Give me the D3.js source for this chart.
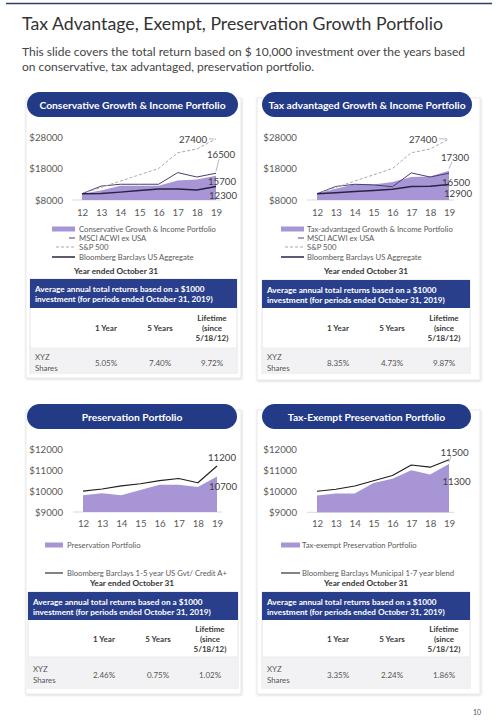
<!DOCTYPE html>
<html>
<head>
<meta charset="utf-8">
<script src="https://cdn.jsdelivr.net/npm/d3@7"></script>
<style>
  body { margin: 0; background: #fff; }
  svg { display: block; font-family: Lato, "Open Sans", sans-serif; }
</style>
</head>
<body>
<svg id="chart" width="498" height="720"></svg>
<script>
// ---- data ----
const years = ['12', '13', '14', '15', '16', '17', '18', '19'];

const consPortfolio = [10000, 11000, 12500, 12500, 12500, 14200, 14500, 15700];
const consMsci = [10000, 12400, 13000, 13000, 13000, 16700, 15300, 16500];
const sp500 = [10000, 12000, 14000, 16000, 18000, 23000, 24200, 27400];
const consAgg = [10000, 10100, 10500, 11000, 11500, 11500, 11200, 12300];

const taxAdvPortfolio = [10000, 11600, 13000, 12900, 13700, 15300, 15500, 17300];
const taxAdvMsci = [10000, 12300, 13000, 12800, 12200, 16600, 15300, 16500];
const taxAdvAgg = [10000, 10300, 10700, 11000, 11400, 12300, 12400, 12900];

const presPortfolio = [9800, 9900, 9800, 10050, 10300, 10300, 10200, 10700];
const presBenchmark = [10000, 10100, 10250, 10350, 10500, 10600, 10400, 11200];

const taxExPortfolio = [9800, 9900, 9900, 10400, 10600, 11000, 10800, 11300];
const taxExBenchmark = [10000, 10100, 10250, 10500, 10750, 11250, 11150, 11500];

const growthTicks = [8000, 18000, 28000];
const presTicks = [9000, 10000, 11000, 12000];

const tableTitle = ['Average annual  total returns based on a $1000', 'investment (for periods ended October 31, 2019)'];
const tableCols = [['1 Year'], ['5 Years'], ['Lifetime', '(since', '5/18/12)']];
const rowLabel = ['XYZ', 'Shares'];
const consReturns = ['5.05%', '7.40%', '9.72%'];
const taxAdvReturns = ['8.35%', '4.73%', '9.87%'];
const presReturns = ['2.46%', '0.75%', '1.02%'];
const taxExReturns = ['3.35%', '2.24%', '1.86%'];

// ---- styles ----
const navy = '#233a86';
const areaFill = '#a795d5';
const lineStyle = {
  msci: { stroke: '#4a3e70', width: 1, dash: null },
  sp: { stroke: '#a9a9a9', width: 1, dash: '3,2' },
  agg: { stroke: '#2a2244', width: 1.5, dash: null },
  bench: { stroke: '#1e1e1e', width: 1.1, dash: null }
};

const svg = d3.select('#chart');

const defs = svg.append('defs');
const shadow = defs.append('filter').attr('id', 'shadow').attr('x', '-5%').attr('y', '-5%').attr('width', '110%').attr('height', '110%');
shadow.append('feDropShadow').attr('dx', 0.5).attr('dy', 0.8).attr('stdDeviation', 1.2).attr('flood-color', '#000').attr('flood-opacity', 0.18);

// header
svg.append('line').attr('x1', 6).attr('x2', 492).attr('y1', 3.5).attr('y2', 3.5)
  .attr('stroke', '#2c3b70').attr('stroke-width', 1.5);
svg.append('text').attr('x', 22).attr('y', 30).attr('font-size', 17.7).attr('fill', '#333')
  .text('Tax Advantage, Exempt, Preservation Growth Portfolio');
svg.append('text').attr('x', 22).attr('y', 56).attr('font-size', 12).attr('fill', '#444')
  .text('This slide covers the total return based on $ 10,000 investment over the years based');
svg.append('text').attr('x', 22).attr('y', 71).attr('font-size', 12).attr('fill', '#444')
  .text('on conservative, tax advantaged, preservation portfolio.');
svg.append('text').attr('x', 477).attr('y', 715).attr('font-size', 7).attr('fill', '#555').attr('text-anchor', 'middle').text('10');

const panels = [
  {
    title: 'Conservative Growth & Income Portfolio',
    card: [26, 98, 241, 378], pill: [27, 238],
    plotX: [82, 216], plotY: [200, 137], tickX: 63, axisY: 214,
    domain: [8000, 28000], ticks: growthTicks,
    area: consPortfolio,
    lines: [{ key: 'msci', values: consMsci }, { key: 'sp', values: sp500 }, { key: 'agg', values: consAgg }],
    legend: [
      { type: 'area', text: 'Conservative Growth & Income Portfolio' },
      { type: 'msci', text: 'MSCI ACWI ex USA' },
      { type: 'sp', text: 'S&P 500' },
      { type: 'agg', text: 'Bloomberg Barclays US Aggregate' }
    ],
    legendX: [52, 75, 79], legendY: [229, 238, 247, 257], yearY: 271, yearX: 116,
    labels: [
      { key: 'sp', dx: -9, dy: 0, anchor: 'end', leader: [[-7, 0], [-2, 0]] },
      { key: 'msci', dx: -9, dy: -19, anchor: 'start', leader: [[3, -14], [0, -2]] },
      { key: 'area', dx: -8, dy: 5, anchor: 'start' },
      { key: 'agg', dx: -7, dy: 9, anchor: 'start' }
    ],
    table: [30, 237, 279, 308, 348, 373], returns: consReturns
  },
  {
    title: 'Tax advantaged Growth & Income Portfolio',
    card: [257, 98, 480, 380], pill: [262, 472],
    plotX: [317, 449], plotY: [200, 137], tickX: 297, axisY: 214,
    domain: [8000, 28000], ticks: growthTicks,
    area: taxAdvPortfolio,
    lines: [{ key: 'msci', values: taxAdvMsci }, { key: 'sp', values: sp500 }, { key: 'agg', values: taxAdvAgg }],
    legend: [
      { type: 'area', text: 'Tax-advantaged Growth & Income Portfolio' },
      { type: 'msci', text: 'MSCI ACWI ex USA' },
      { type: 'sp', text: 'S&P 500' },
      { type: 'agg', text: 'Bloomberg Barclays US Aggregate' }
    ],
    legendX: [281, 304, 307], legendY: [229, 238, 247, 257], yearY: 271, yearX: 366,
    labels: [
      { key: 'sp', dx: -12, dy: 0, anchor: 'end', leader: [[-10, 0], [-2, 0]] },
      { key: 'area', dx: -8, dy: -14, anchor: 'start', leader: [[3, -9], [0, -2]] },
      { key: 'msci', dx: -7, dy: 8.5, anchor: 'start' },
      { key: 'agg', dx: -5, dy: 8, anchor: 'start' }
    ],
    table: [262, 470, 280, 308, 348, 373], returns: taxAdvReturns
  },
  {
    title: 'Preservation Portfolio',
    card: [26, 410, 241, 694], pill: [27, 237],
    plotX: [83, 217], plotY: [512, 449.3], tickX: 63, axisY: 525,
    domain: [9000, 12000], ticks: presTicks,
    area: presPortfolio,
    lines: [{ key: 'bench', values: presBenchmark }],
    legend: [
      { type: 'area', text: 'Preservation Portfolio' },
      { type: 'bench', text: 'Bloomberg Barclays 1-5 year US Gvt/ Credit A+' }
    ],
    legendX: [45, 63, 67], legendY: [545, 573], yearY: 583, yearX: 132,
    labels: [
      { key: 'bench', dx: -9, dy: -9.5, anchor: 'start' },
      { key: 'area', dx: -8, dy: 10, anchor: 'start' }
    ],
    table: [28, 238, 592, 620, 657, 688], returns: presReturns
  },
  {
    title: 'Tax-Exempt Preservation Portfolio',
    card: [257, 410, 480, 694], pill: [262, 471],
    plotX: [317, 449], plotY: [512.3, 449.3], tickX: 297, axisY: 525,
    domain: [9000, 12000], ticks: presTicks,
    area: taxExPortfolio,
    lines: [{ key: 'bench', values: taxExBenchmark }],
    legend: [
      { type: 'area', text: 'Tax-exempt Preservation Portfolio' },
      { type: 'bench', text: 'Bloomberg Barclays Municipal 1-7 year blend' }
    ],
    legendX: [281, 300, 302], legendY: [545, 573], yearY: 583, yearX: 366,
    labels: [
      { key: 'bench', dx: -8.5, dy: -8, anchor: 'start' },
      { key: 'area', dx: -6.5, dy: 17, anchor: 'start', leader: [[2, -8], [0, -2]] }
    ],
    table: [262, 470, 592, 620, 657, 688], returns: taxExReturns
  }
];

panels.forEach(p => {
  const g = svg.append('g');
  const [cx0, cy0, cx1, cy1] = p.card;

  // card + pill header
  g.append('rect').attr('x', cx0).attr('y', cy0).attr('width', cx1 - cx0).attr('height', cy1 - cy0)
    .attr('fill', '#fff').attr('stroke', '#e3e3e3').attr('stroke-width', 0.8).attr('filter', 'url(#shadow)');
  g.append('rect').attr('x', p.pill[0]).attr('y', cy0 - 6).attr('width', p.pill[1] - p.pill[0]).attr('height', 25)
    .attr('rx', 12.5).attr('fill', navy);
  g.append('text').attr('x', (p.pill[0] + p.pill[1]) / 2).attr('y', cy0 + 6.5)
    .attr('text-anchor', 'middle').attr('dominant-baseline', 'central')
    .attr('font-size', 10.3).attr('font-weight', 'bold').attr('fill', '#fff').text(p.title);

  // scales
  const x = d3.scalePoint().domain(years).range(p.plotX);
  const y = d3.scaleLinear().domain(p.domain).range(p.plotY);

  // baseline
  g.append('line').attr('x1', p.plotX[0] - 10).attr('x2', p.plotX[1] + 5)
    .attr('y1', y(p.domain[0])).attr('y2', y(p.domain[0]))
    .attr('stroke', '#d9d9d9').attr('stroke-width', 1);

  // y axis labels
  const yAxis = d3.axisLeft(y).tickValues(p.ticks).tickSize(0).tickPadding(0).tickFormat(d => '$' + d);
  const ya = g.append('g').attr('transform', `translate(${p.tickX},0)`).call(yAxis);
  ya.select('.domain').remove();
  ya.selectAll('text').attr('font-size', 9.7).attr('fill', '#595959').attr('font-family', 'Lato, sans-serif');

  // x axis labels
  const xAxis = d3.axisBottom(x).tickSize(0).tickPadding(0);
  const xa = g.append('g').attr('transform', `translate(0,${p.axisY - 5})`).call(xAxis);
  xa.select('.domain').remove();
  xa.selectAll('text').attr('font-size', 9.7).attr('fill', '#595959').attr('font-family', 'Lato, sans-serif');

  // area
  const area = d3.area().x((d, i) => x(years[i])).y0(y(p.domain[0])).y1(d => y(d));
  g.append('path').datum(p.area).attr('d', area).attr('fill', areaFill);

  // lines
  const line = d3.line().x((d, i) => x(years[i])).y(d => y(d));
  p.lines.forEach(l => {
    const s = lineStyle[l.key];
    g.append('path').datum(l.values).attr('d', line).attr('fill', 'none')
      .attr('stroke', s.stroke).attr('stroke-width', s.width)
      .attr('stroke-dasharray', s.dash).attr('stroke-linejoin', 'round');
  });

  // end labels
  const last = years.length - 1;
  p.labels.forEach(lb => {
    const series = lb.key === 'area' ? p.area : p.lines.find(l => l.key === lb.key).values;
    const px = x(years[last]);
    const py = y(series[last]);
    if (lb.leader) {
      g.append('polyline')
        .attr('points', lb.leader.map(o => [px + o[0], py + o[1]].join(',')).join(' '))
        .attr('fill', 'none').attr('stroke', '#9a9a9a').attr('stroke-width', 0.7);
    }
    g.append('text').attr('x', px + lb.dx).attr('y', py + lb.dy)
      .attr('text-anchor', lb.anchor).attr('dominant-baseline', 'central')
      .attr('font-size', 9.7).attr('fill', '#404040').text(series[last]);
  });

  // legend
  const [lx0, lx1, ltx] = p.legendX;
  p.legend.forEach((item, i) => {
    const ly = p.legendY[i];
    if (item.type === 'area') {
      g.append('rect').attr('x', lx0).attr('y', ly - 2.5).attr('width', lx1 - lx0).attr('height', 5).attr('fill', areaFill);
    } else {
      const s = lineStyle[item.type];
      const start = item.type === 'msci' ? lx1 - 6 : (item.type === 'sp' ? lx1 - 19 : lx0);
      g.append('line').attr('x1', start).attr('x2', lx1).attr('y1', ly).attr('y2', ly)
        .attr('stroke', s.stroke).attr('stroke-width', s.width).attr('stroke-dasharray', s.dash);
    }
    g.append('text').attr('x', ltx).attr('y', ly).attr('dominant-baseline', 'central')
      .attr('font-size', 7.7).attr('fill', '#5a5a5a').text(item.text);
  });

  g.append('text').attr('x', p.yearX).attr('y', p.yearY).attr('text-anchor', 'middle').attr('dominant-baseline', 'central')
    .attr('font-size', 8.2).attr('font-weight', 'bold').attr('fill', '#333').text('Year ended October 31');

  // returns table
  const [tx0, tx1, t0, t1, t2, t3] = p.table;
  g.append('rect').attr('x', tx0).attr('y', t0).attr('width', tx1 - tx0).attr('height', t3 - t0)
    .attr('fill', '#fff').attr('stroke', '#dcdcdc').attr('stroke-width', 0.8);
  g.append('rect').attr('x', tx0).attr('y', t0).attr('width', tx1 - tx0).attr('height', t1 - t0).attr('fill', '#2a3f8c');
  tableTitle.forEach((t, i) => {
    g.append('text').attr('x', tx0 + 5).attr('y', t0 + 13 + i * 9.7)
      .attr('font-size', 8.2).attr('font-weight', 'bold').attr('fill', '#fff').text(t);
  });
  g.append('rect').attr('x', tx0 + 0.5).attr('y', t2).attr('width', tx1 - tx0 - 1).attr('height', t3 - t2 - 0.5).attr('fill', '#f2f2f4');
  g.append('line').attr('x1', tx0).attr('x2', tx1).attr('y1', t2).attr('y2', t2).attr('stroke', '#e2e2e2').attr('stroke-width', 0.6);

  const colX = [tx0 + 76, tx0 + 130, tx0 + 182];
  const hMid = (t1 + t2) / 2;
  tableCols.forEach((lines, ci) => {
    lines.forEach((t, li) => {
      g.append('text').attr('x', colX[ci]).attr('y', hMid + (li - (lines.length - 1) / 2) * 10)
        .attr('text-anchor', 'middle').attr('dominant-baseline', 'central')
        .attr('font-size', 8).attr('font-weight', 'bold').attr('fill', '#3a3a3a').text(t);
    });
  });
  const rMid = (t2 + t3) / 2 + 2;
  rowLabel.forEach((t, li) => {
    g.append('text').attr('x', tx0 + 5).attr('y', rMid + (li - 0.5) * 11.5)
      .attr('dominant-baseline', 'central').attr('font-size', 7.8).attr('fill', '#555').text(t);
  });
  p.returns.forEach((v, ci) => {
    g.append('text').attr('x', colX[ci]).attr('y', rMid)
      .attr('text-anchor', 'middle').attr('dominant-baseline', 'central')
      .attr('font-size', 8).attr('fill', '#555').text(v);
  });
});
</script>
</body>
</html>
